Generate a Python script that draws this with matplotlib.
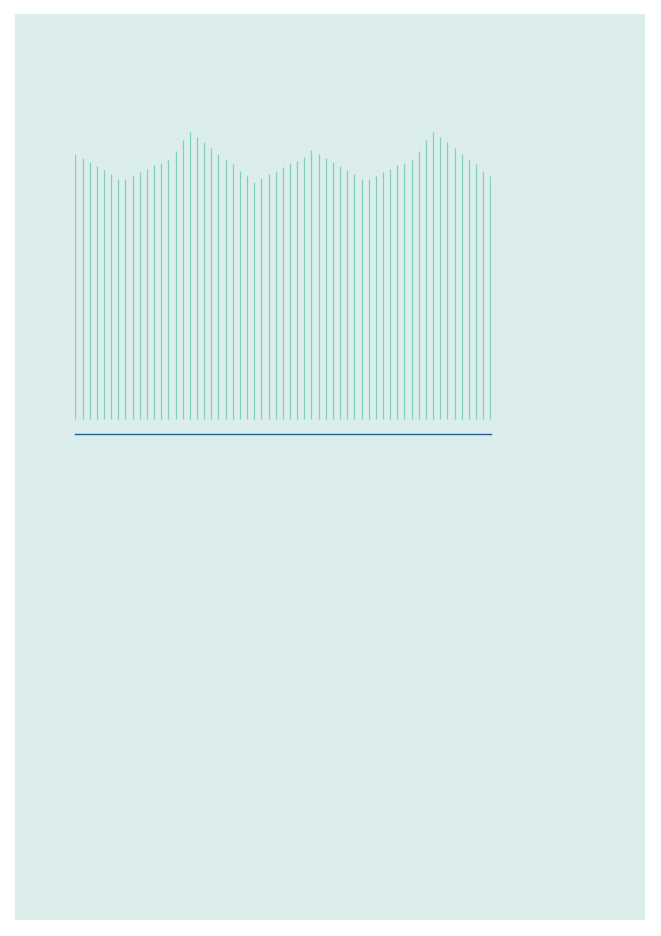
import numpy as np
import matplotlib
matplotlib.use("Agg")
import matplotlib.pyplot as plt
from matplotlib.patches import Rectangle

# bar heights
values = [265, 261, 257, 253, 249, 245, 240, 240, 243, 247,
          250, 254, 256, 259, 268, 279, 287, 282, 277, 271,
          265, 259, 255, 248, 243, 237, 241, 245, 248, 252,
          256, 258, 262, 269, 265, 261, 257, 253, 249, 245,
          240, 240, 243, 247, 250, 254, 256, 259, 268, 279,
          287, 282, 277, 271, 265, 259, 255, 248, 243]
x = np.arange(len(values))

W, H = 661, 937
fig = plt.figure(figsize=(W / 100, H / 100), dpi=100)
fig.patch.set_facecolor("white")

# light panel behind the chart
bg = fig.add_axes([0, 0, 1, 1])
bg.set_axis_off()
bg.set_xlim(0, W)
bg.set_ylim(H, 0)
bg.add_patch(Rectangle((15, 15), 630, 906, facecolor="#dbeeeb", edgecolor="none"))

ax = fig.add_axes([75 / W, 1 - 435 / H, 416 / W, 315 / H])
ax.set_zorder(2)
ax.set_facecolor("none")
ax.vlines(x, 0, values, color="#7fcfbe", linewidth=0.9)
ax.set_xlim(-0.05, len(values) - 1 + 0.1)
ax.set_ylim(-15, 300)
for s in ["top", "right", "left"]:
    ax.spines[s].set_visible(False)
ax.spines["bottom"].set_color("#1f5f96")
ax.spines["bottom"].set_linewidth(1.0)
ax.set_xticks([])
ax.set_yticks([])

fig.savefig("out.png", dpi=100)
plt.close(fig)
